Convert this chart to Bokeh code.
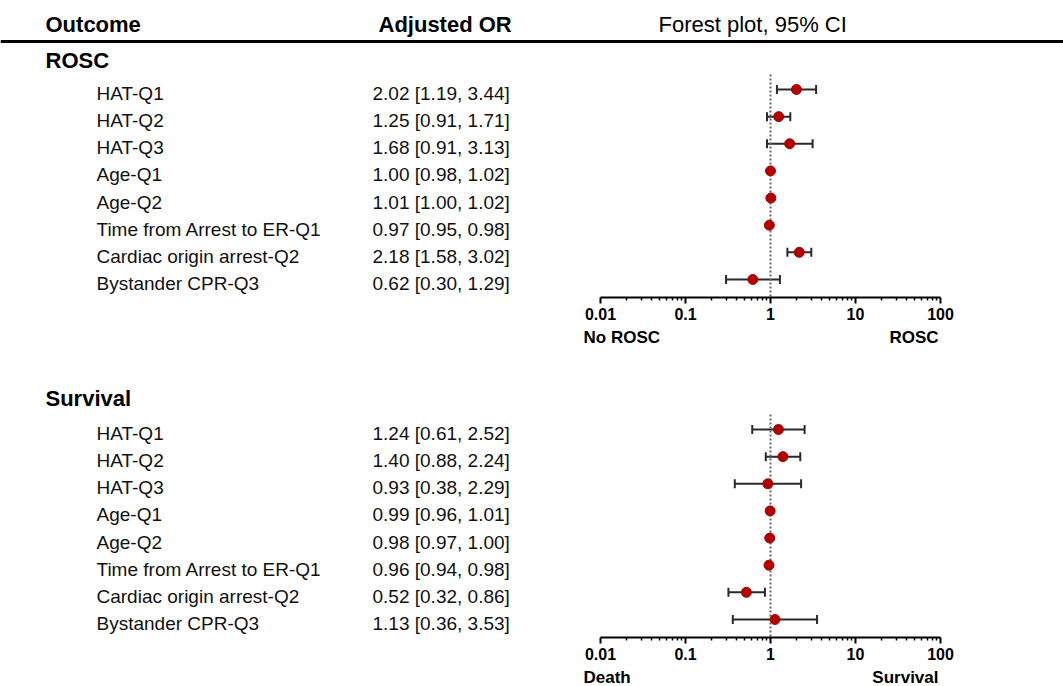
from bokeh.plotting import figure
from bokeh.layouts import column
from bokeh.models import (ColumnDataSource, LabelSet, Label, Span, Whisker, TeeHead,
                          Range1d, FixedTicker, CustomJSTickFormatter)
from bokeh.core.properties import value
from bokeh.embed import file_html
from bokeh.resources import INLINE

# ---------------- data ----------------
outcomes = ["HAT-Q1", "HAT-Q2", "HAT-Q3", "Age-Q1", "Age-Q2",
            "Time from Arrest to ER-Q1", "Cardiac origin arrest-Q2", "Bystander CPR-Q3"]

rosc_or = [2.02, 1.25, 1.68, 1.00, 1.01, 0.97, 2.18, 0.62]
rosc_lo = [1.19, 0.91, 0.91, 0.98, 1.00, 0.95, 1.58, 0.30]
rosc_hi = [3.44, 1.71, 3.13, 1.02, 1.02, 0.98, 3.02, 1.29]

surv_or = [1.24, 1.40, 0.93, 0.99, 0.98, 0.96, 0.52, 1.13]
surv_lo = [0.61, 0.88, 0.38, 0.96, 0.97, 0.94, 0.32, 0.36]
surv_hi = [2.52, 2.24, 2.29, 1.01, 1.00, 0.98, 0.86, 3.53]

tick_values = [0.01, 0.1, 1, 10, 100]
null_value = 1

# ---------------- styling / layout ----------------
FONT = "Liberation Sans"
W = 1063
PX_PER_DEC = 85.0
X_001_PX = 600          # canvas px where 0.01 sits
ROW = 27.14             # px per row
POINT_COLOR = "#B00000"
BAR_COLOR = "#2a2a2a"


def x_range():
    lo = -2 - X_001_PX / PX_PER_DEC
    hi = lo + W / PX_PER_DEC
    return Range1d(10 ** lo, 10 ** hi)


def base_fig(height, y_range, border_bottom=0, log_axis=True):
    kw = dict(width=W, height=height, x_axis_type="log", x_range=x_range(),
              y_range=y_range, output_backend="svg", toolbar_location=None,
              y_axis_location=None, min_border_left=0, min_border_right=0,
              min_border_top=0, min_border_bottom=border_bottom)
    if not log_axis:
        kw["x_axis_location"] = None
    p = figure(**kw)
    p.xgrid.visible = False
    p.ygrid.visible = False
    p.outline_line_color = None
    p.background_fill_color = "white"
    p.border_fill_color = "white"
    return p


def section(title, ors, los, his, height, row0_px, axis_px, title_px, header=False):
    def d(px):
        return (px - row0_px) / ROW

    top = d(0)
    bottom = d(axis_px)
    p = base_fig(height, Range1d(bottom, top), border_bottom=height - axis_px)

    src = ColumnDataSource(dict(
        y=list(range(len(outcomes))),
        label=outcomes,
        ortxt=[f"{o:.2f} [{l:.2f}, {h:.2f}]" for o, l, h in zip(ors, los, his)],
        orv=ors, lo=los, hi=his,
    ))

    # null line
    p.segment(x0=[null_value], y0=[-0.55], x1=[null_value], y1=[bottom],
              line_color="#666666", line_width=2, line_dash="2 2")

    w = Whisker(source=src, base="y", lower="lo", upper="hi", dimension="width",
                line_color=BAR_COLOR, line_width=2, level="underlay",
                upper_head=TeeHead(size=9, line_width=2, line_color=BAR_COLOR),
                lower_head=TeeHead(size=9, line_width=2, line_color=BAR_COLOR))
    p.add_layout(w)
    p.scatter("orv", "y", source=src, size=10, fill_color=POINT_COLOR,
              line_color=POINT_COLOR)

    p.add_layout(LabelSet(x=96, y="y", x_units="screen", text="label", source=src,
                          text_font=value(FONT), text_font_size="19px",
                          text_baseline="middle", text_color="#111111", y_offset=-4))
    p.add_layout(LabelSet(x=372, y="y", x_units="screen", text="ortxt", source=src,
                          text_font=value(FONT), text_font_size="19px",
                          text_baseline="middle", text_color="#111111", y_offset=-4))

    p.add_layout(Label(x=45, y=d(title_px), x_units="screen", text=title,
                       text_font=FONT, text_font_size="22px", text_font_style="bold",
                       text_baseline="middle", text_color="black"))

    if header:
        for xx, txt, style in [(45, "Outcome", "bold"), (378, "Adjusted OR", "bold"),
                               (658, "Forest plot, 95% CI", "normal")]:
            p.add_layout(Label(x=xx, y=d(24), x_units="screen", text=txt,
                               text_font=FONT, text_font_size="22px",
                               text_font_style=style, text_baseline="middle",
                               text_color="black"))
        p.add_layout(Span(location=d(41), dimension="width", line_color="black",
                          line_width=3))

    ax = p.xaxis[0]
    minor = [m * 10.0 ** e for e in range(-2, 2) for m in range(2, 10)]
    ax.ticker = FixedTicker(ticks=tick_values, minor_ticks=minor)
    ax.bounds = (tick_values[0], tick_values[-1])
    ax.formatter = CustomJSTickFormatter(code="return String(+tick.toPrecision(3));")
    ax.major_label_text_font = FONT
    ax.major_label_text_font_size = "16px"
    ax.major_label_text_font_style = "bold"
    ax.major_label_text_color = "black"
    ax.axis_line_color = "black"
    ax.axis_line_width = 2
    ax.major_tick_line_color = "black"
    ax.major_tick_line_width = 2
    ax.major_tick_out = 6
    ax.major_tick_in = 0
    ax.minor_tick_line_color = "black"
    ax.minor_tick_line_width = 1.5
    ax.minor_tick_out = 3
    ax.minor_tick_in = 0
    ax.major_label_standoff = 4
    return p


def end_labels(height, center_px, left_txt, right_txt):
    p = base_fig(height, Range1d(height, 0), log_axis=False)
    p.text(x=[tick_values[0]], y=[center_px], text=[left_txt], text_font=value(FONT),
           text_font_size=value("17px"), text_font_style="bold", text_color="black",
           text_baseline="middle", text_align="left", x_offset=-17)
    p.text(x=[tick_values[-1]], y=[center_px], text=[right_txt], text_font=value(FONT),
           text_font_size=value("17px"), text_font_style="bold", text_color="black",
           text_baseline="middle", text_align="right", x_offset=-2)
    return p


p1 = section("ROSC", rosc_or, rosc_lo, rosc_hi,
             height=327, row0_px=89, axis_px=297, title_px=60, header=True)
p1b = end_labels(23, 10, "No ROSC", "ROSC")
p2 = section("Survival", surv_or, surv_lo, surv_hi,
             height=317, row0_px=79, axis_px=287, title_px=48)
p2b = end_labels(19, 10, "Death", "Survival")

layout = column(p1, p1b, p2, p2b, spacing=0)
open("out.html", "w").write(file_html(layout, INLINE))
